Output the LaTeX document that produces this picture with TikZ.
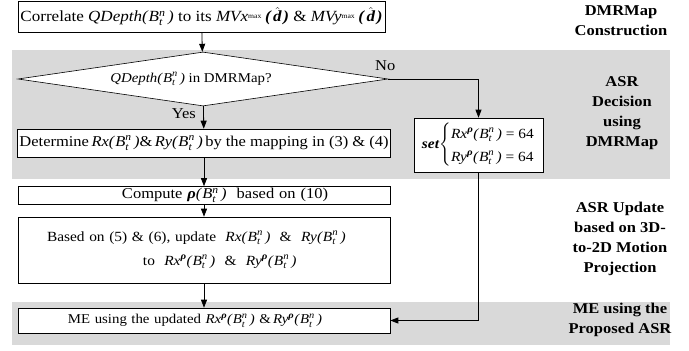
\documentclass[tikz,border=0pt]{standalone}
\usepackage{amsmath}
\usepackage{fontspec}
\setmainfont{Liberation Serif}[FakeStretch=1.1]
\usetikzlibrary{shapes.geometric,arrows.meta}
\definecolor{bandgray}{RGB}{217,217,217}
\newcommand{\Btn}{$\textit{B}_{\textit{t}}^{\textit{n}}$}
\newcommand{\rhob}{\textbf{\textit{ρ}}}
\newcommand{\Dhat}{\,\textbf{\textit{(}}\kern1.5pt$\hat{\textbf{\textit{d}}}$\kern1.5pt\textbf{\textit{)}}}
\newcommand{\smax}{\raisebox{3.5pt}{\fontsize{7}{7}\selectfont max}\kern1pt}
\tikzset{
  procbox/.style={draw,line width=.6pt,fill=white,inner sep=2pt,align=center},
  flow/.style={line width=.8pt,-{Triangle[length=8pt,width=6pt]}},
  stagelabel/.style={align=center,font=\fontsize{15}{20}\selectfont\bfseries}
}
\begin{document}
\begin{tikzpicture}[x=1pt,y=-1pt,font=\fontsize{15}{23}\selectfont]
\useasboundingbox (0,0) rectangle (689,351);
\fill[bandgray] (12,50) rectangle (670,179);
\fill[bandgray] (12,302) rectangle (670,345);
\node[procbox,minimum width=367pt,minimum height=31pt,font=\fontsize{15.5}{20}\selectfont] (corr) at (201.5,16.5)
  {Correlate \textit{QDepth(}\Btn\textit{\,)} to its \textit{MVx}\smax\Dhat\ \& \textit{MVy}\smax\Dhat};
\node[diamond,draw,line width=.6pt,fill=white,aspect=6.85,inner sep=0pt,minimum width=370pt,minimum height=54pt,font=\fontsize{13.5}{16}\selectfont] (dec) at (203,79)
  {\hspace*{-24pt}\textit{QDepth(}\Btn\textit{\,)} in DMRMap?};
\node[procbox,minimum width=372pt,minimum height=28pt] (det) at (204,143)
  {Determine\,\textit{Rx(}\Btn\textit{\,)}\&\,\textit{Ry(}\Btn\textit{\,)}\,by the mapping in (3) \& (4)};
\node[procbox,text width=364pt,inner xsep=4pt,inner ysep=0pt,align=left,minimum height=18pt,font=\fontsize{15}{18}\selectfont] (comp) at (204,195.5)
  {\hspace*{100pt}Compute \rhob\textit{(}\Btn\textit{\,)}\ \ based on (10)};
\node[procbox,text width=364pt,inner xsep=4pt,align=left,minimum height=66pt,font=\fontsize{14}{24}\selectfont] (upd) at (204,250)
  {\hspace*{25pt}Based on (5) \& (6), update \ \textit{Rx(}\Btn\textit{\,)} \ \& \ \textit{Ry(}\Btn\textit{\,)}\\
   \hspace*{121pt}to \ \textit{Rx}$^{\text{\rhob}}$\textit{(}\Btn\textit{\,)} \ \& \ \textit{Ry}$^{\text{\rhob}}$\textit{(}\Btn\textit{\,)}};
\node[procbox,text width=364pt,inner xsep=4pt,align=left,minimum height=25pt,font=\fontsize{13.5}{16}\selectfont] (me) at (204,320.5)
  {\hspace*{46pt}ME using the updated \textit{Rx}$^{\text{\rhob}}$\textit{(}\Btn\textit{\,)} \&\,\textit{Ry}$^{\text{\rhob}}$\textit{(}\Btn\textit{\,)}};
\node[procbox,minimum width=129pt,minimum height=54pt,inner sep=0pt,font=\fontsize{14}{23}\selectfont] (set) at (478.5,145)
  {\textbf{\textit{set}}$\left\{\begin{tabular}{@{}l@{}}\textit{Rx}$^{\text{\rhob}}$\textit{(}\Btn\textit{\,)} = 64\\\textit{Ry}$^{\text{\rhob}}$\textit{(}\Btn\textit{\,)} = 64\end{tabular}\right.$};
\draw[flow] (corr) -- (dec);
\draw[flow] (dec) -- node[left,pos=.35,xshift=-4pt] {Yes} (det);
\draw[flow] (det) -- (comp);
\draw[flow] (comp) -- (upd);
\draw[flow] (upd) -- (me);
\draw[flow] (dec.east) -- (dec.east -| set.north) -- (set.north);
\node[above,xshift=-3pt,yshift=5pt] (nolbl) at (dec.east) {No};
\draw[flow] (set.south) -- (set.south |- me.east) -- (me.east);
% stage labels
\node[stagelabel] (lbla) at (621,21) {DMRMap\\Construction};
\node[stagelabel] (lblb) at (622,113) {ASR\\Decision\\using\\DMRMap};
\node[stagelabel] (lblc) at (620,239) {ASR Update\\based on 3D-\\to-2D Motion\\Projection};
\node[stagelabel] (lbld) at (620,320) {ME using the\\Proposed ASR};
\end{tikzpicture}
\end{document}
